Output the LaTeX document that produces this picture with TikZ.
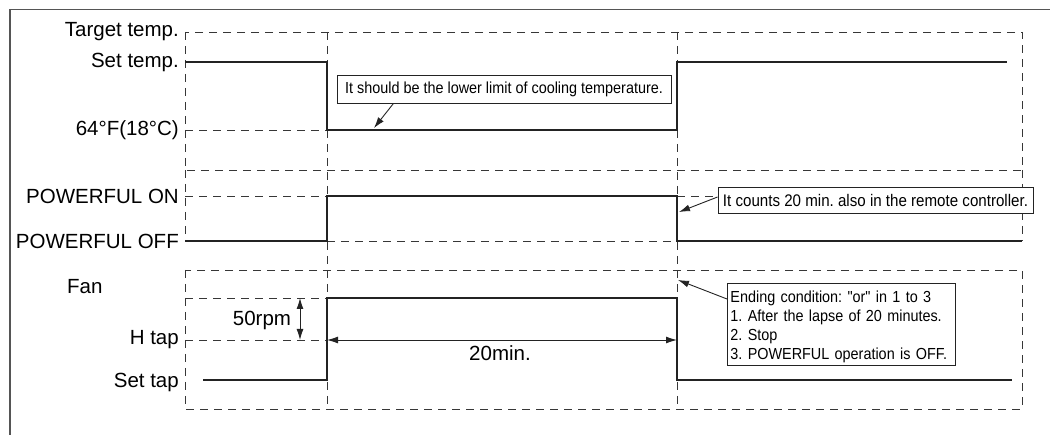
\documentclass[tikz,border=0pt]{standalone}
\usepackage{fontspec}
\setmainfont{Liberation Sans}
\newfontfamily\notefont[FakeStretch=0.9]{Liberation Sans}
\usetikzlibrary{arrows.meta, calc, math}
\definecolor{sigcol}{RGB}{35,35,35}
\definecolor{dashcol}{RGB}{55,55,55}
\definecolor{framecol}{RGB}{85,85,85}
\frenchspacing

\tikzset{
  guide/.style={dashcol, line width=0.9pt, dash pattern=on 8pt off 6pt},
  signal/.style={sigcol, line width=2.8pt},
  lvl/.style={anchor=east, inner sep=0pt, font=\fontsize{20.5}{24}\selectfont},
  note/.style={draw=sigcol, line width=0.9pt, fill=white, inner xsep=4pt, inner ysep=3pt,
    font=\notefont\fontsize{16}{19}\selectfont},
  pointer/.style={sigcol, line width=0.9pt, -{Latex[length=11pt,width=7pt]}},
  span/.style={sigcol, line width=0.9pt, {Latex[length=11pt,width=7pt]}-{Latex[length=11pt,width=7pt]}},
}

\begin{document}
\begin{tikzpicture}[x=1pt,y=-1pt]
\tikzmath{
\xl=185; \xa=327; \xb=677; \xr=1022;
\ytop=32; \yset=62; \ylow=130; \ymid=170;
\yon=196; \yoff=241;
\yfan=270; \yup=298; \yh=340; \ytap=380; \ybot=409;
}
\useasboundingbox (0,0) rectangle (1050,435);

% frame
\draw[framecol, line width=1.3pt] (10,435) -- (10,9.5) -- (1050,9.5);

% guide lines
\draw[guide] (\xl,\ytop) rectangle (\xr,\ymid);
\draw[guide] (\xl,\ymid) -- (\xl,\yoff);
\draw[guide] (\xr,\ymid) -- (\xr,\yoff);
\draw[guide] (\xl,\yfan) rectangle (\xr,\ybot);
\draw[guide] (\xa,\ytop) -- (\xa,\ybot);
\draw[guide] (\xb,\ytop) -- (\xb,\ybot);
\draw[guide] (\xl,\ylow) -- (\xa,\ylow);
\draw[guide] (\xl,\yon) -- (\xa,\yon);
\draw[guide] (\xb,\yon) -- (\xr,\yon);
\draw[guide] (\xa,\yoff) -- (\xb,\yoff);
\draw[guide] (\xl,\yup) -- (\xa,\yup);
\draw[guide] (\xl,\yh) -- (\xa,\yh);

% level labels
\node[lvl] (target) at (179,\ytop) {Target temp.};
\node[lvl] (settemp) at (179,\yset) {Set temp.};
\node[lvl] (lowtemp) at (179,\ylow) {64°F(18°C)};
\node[lvl] (pwron) at (179,\yon) {POWERFUL ON};
\node[lvl] (pwroff) at (179,\yoff) {POWERFUL OFF};
\node[lvl, anchor=west] (fan) at (67,287) {Fan};
\node[lvl] (htap) at (179,\yh) {H tap};
\node[lvl] (settap) at (179,\ytap+2) {Set tap};

% signals
\draw[signal] (\xl,\yset) -- (\xa,\yset) -- (\xa,\ylow) -- (\xb,\ylow) -- (\xb,\yset) -- (1007,\yset);
\draw[signal] (\xl,\yoff) -- (\xa,\yoff) -- (\xa,\yon) -- (\xb,\yon) -- (\xb,\yoff) -- (\xr,\yoff);
\draw[signal] (203,\ytap) -- (\xa,\ytap) -- (\xa,\yup) -- (\xb,\yup) -- (\xb,\ytap) -- (1012,\ytap);

\coordinate (lowpt) at (374,\ylow-2);
\coordinate (offpt) at (\xb+2,212);
\coordinate (endpt) at (\xb+1,280);
\coordinate (rpmtop) at (300,\yup);
\coordinate (rpmbot) at (300,\yh);
\coordinate (minl) at (\xa,\yh);
\coordinate (minr) at (\xb,\yh);

% spans
\draw[span] (rpmtop) -- (rpmbot);
\node[lvl, anchor=center] (rpm) at (262,320) {50rpm};
\draw[span] (minl) -- (minr);
\node[lvl, anchor=center] (twenty) at (500,353) {20min.};

% notes
\node[note, minimum width=334pt, minimum height=28pt] (cooling) at (504,89)
  {It should be the lower limit of cooling temperature.};
\node[note, minimum width=315pt, minimum height=26pt, font=\notefont\fontsize{16.8}{19}\selectfont] (remote) at (875.5,200)
  {It counts 20 min. also in the remote controller.};
\node[note, anchor=north west, inner xsep=3pt, text width=222pt, align=left] (ending) at (727,283)
  {\rule{0pt}{16pt}Ending condition: "or" in 1 to 3\\1. After the lapse of 20 minutes.\\2. Stop\\3. POWERFUL operation is OFF.};

\draw[pointer] ($(cooling.south west)!0.17!(cooling.south east)$) -- (lowpt);
\draw[pointer] ($(remote.west)+(0,-3)$) -- (offpt);
\draw[pointer] ($(ending.north west)+(0,16)$) -- (endpt);

\end{tikzpicture}
\end{document}
